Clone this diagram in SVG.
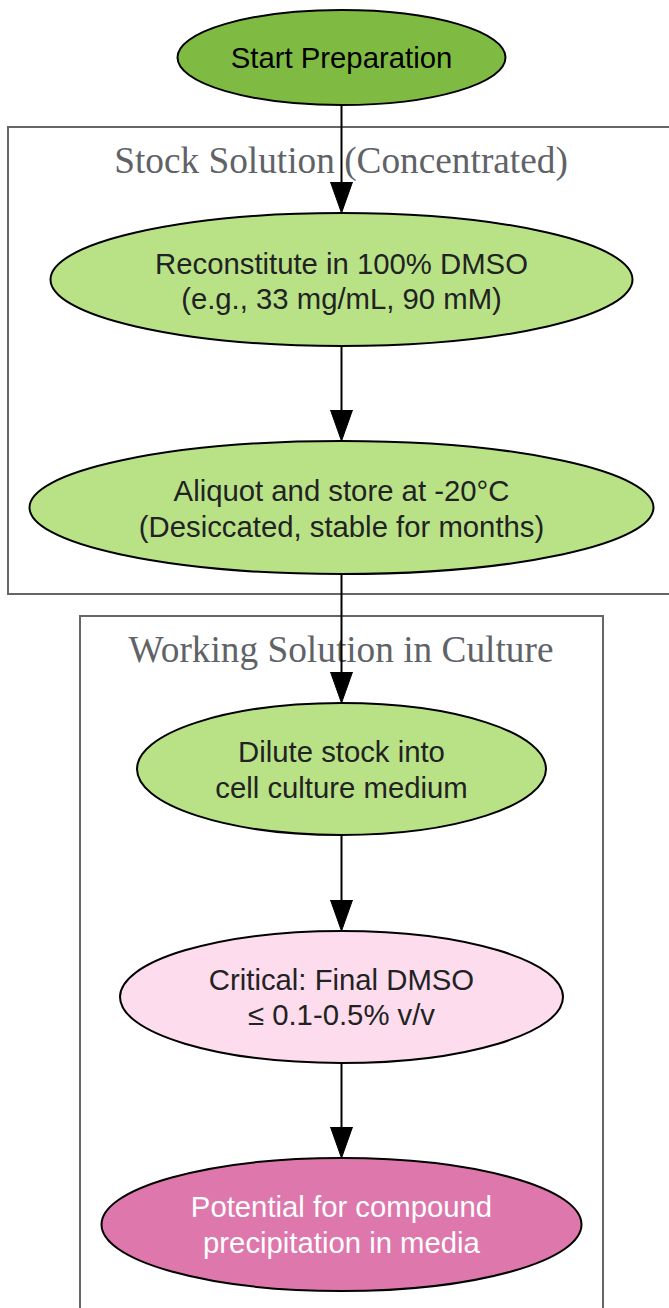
<svg xmlns="http://www.w3.org/2000/svg" width="669" height="1308" viewBox="0 0 669 1308">
<defs>
<style>
.cluster{fill:none;stroke:#666666;stroke-width:2}
.ctitle{font-family:"Liberation Serif","Times New Roman",serif;font-size:37.3px;fill:#5f6368;text-anchor:middle}
.node{stroke:#000;stroke-width:2}
.t{font-family:"Liberation Sans",Arial,sans-serif;font-size:29.3px;text-anchor:middle;fill:#222222}
.edge{stroke:#000;stroke-width:2;fill:none}
</style>
<marker id="arrow" markerUnits="userSpaceOnUse" markerWidth="32" markerHeight="23" viewBox="0 0 32 23" refX="0.5" refY="11.5" orient="auto">
<path d="M0.5,0.5 L31.5,11.5 L0.5,22.5 Z" fill="#000" stroke="#000" stroke-width="1"/>
</marker>
</defs>
<rect width="669" height="1308" fill="#ffffff"/>
<g id="cluster_stock">
<rect class="cluster" x="8" y="127" width="663" height="467"/>
<text class="ctitle" x="341" y="173">Stock Solution (Concentrated)</text>
</g>
<g id="cluster_working">
<rect class="cluster" x="80" y="616" width="523" height="710"/>
<text class="ctitle" x="341" y="662">Working Solution in Culture</text>
</g>
<g id="connectors">
<line class="edge" x1="341.5" y1="105" x2="341.5" y2="182" marker-end="url(#arrow)"/>
<line class="edge" x1="341.5" y1="346" x2="341.5" y2="410" marker-end="url(#arrow)"/>
<line class="edge" x1="341.5" y1="574" x2="341.5" y2="672" marker-end="url(#arrow)"/>
<line class="edge" x1="341.5" y1="835" x2="341.5" y2="900" marker-end="url(#arrow)"/>
<line class="edge" x1="341.5" y1="1063" x2="341.5" y2="1127" marker-end="url(#arrow)"/>
</g>
<g id="start">
<ellipse class="node" cx="341.5" cy="57.5" rx="164" ry="47.5" fill="#7fbb42"/>
<text class="t" x="341.5" y="68" style="fill:#000">Start Preparation</text>
</g>
<g id="reconstitute">
<ellipse class="node" cx="341.5" cy="279.5" rx="291" ry="66.5" fill="#b9e287"/>
<text class="t" x="341.5" y="273.5">Reconstitute in 100% DMSO</text>
<text class="t" x="341.5" y="309">(e.g., 33 mg/mL, 90 mM)</text>
</g>
<g id="aliquot">
<ellipse class="node" cx="341.5" cy="507.5" rx="312" ry="66.5" fill="#b9e287"/>
<text class="t" x="341.5" y="501">Aliquot and store at -20°C</text>
<text class="t" x="341.5" y="536.5">(Desiccated, stable for months)</text>
</g>
<g id="dilute">
<ellipse class="node" cx="341.5" cy="769" rx="204.5" ry="66" fill="#b9e287"/>
<text class="t" x="341.5" y="762">Dilute stock into</text>
<text class="t" x="341.5" y="797.5">cell culture medium</text>
</g>
<g id="critical">
<ellipse class="node" cx="341.5" cy="997" rx="221.5" ry="66" fill="#fddcee"/>
<text class="t" x="341.5" y="989.5">Critical: Final DMSO</text>
<text class="t" x="341.5" y="1025">≤ 0.1-0.5% v/v</text>
</g>
<g id="precipitation">
<ellipse class="node" cx="341.5" cy="1224.5" rx="240" ry="66.5" fill="#de77ac"/>
<text class="t" x="341.5" y="1217" style="fill:#ffffff">Potential for compound</text>
<text class="t" x="341.5" y="1253" style="fill:#ffffff">precipitation in media</text>
</g>
</svg>
